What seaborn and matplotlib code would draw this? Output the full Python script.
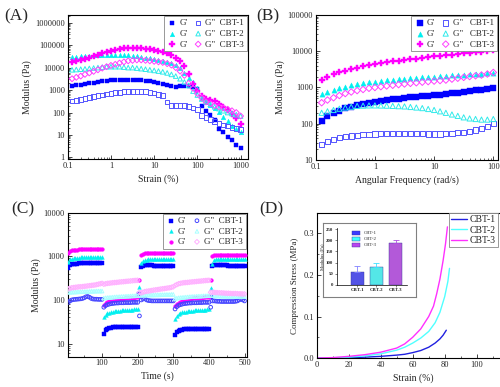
import numpy as np
import pandas as pd
import matplotlib
matplotlib.use('Agg')
import matplotlib.pyplot as plt
from matplotlib.ticker import FuncFormatter, NullFormatter, AutoMinorLocator, FixedLocator
from matplotlib.patches import Patch
import seaborn as sns

# ---------------- data ----------------
# (A) strain sweep
strain = [0.126, 0.158, 0.2, 0.251, 0.316, 0.398, 0.501, 0.631, 0.794, 1.0,
          1.26, 1.58, 2.0, 2.51, 3.16, 3.98, 5.01, 6.31, 7.94, 10.0,
          12.6, 15.8, 20.0, 25.1, 31.6, 39.8, 50.1, 63.1, 79.4, 100.0,
          126, 158, 200, 251, 316, 398, 501, 631, 794, 1000]
a_gp1 = [1500, 1600, 1700, 1850, 2000, 2150, 2300, 2450, 2600, 2700,
         2800, 2850, 2900, 2900, 2850, 2800, 2700, 2600, 2450, 2300,
         2150, 1950, 1700, 1450, 1400, 1450, 1550, 1500, 1400, 1100,
         200, 120, 80, 45, 19, 13, 8.5, 6, 3.5, 2.5]
a_gpp1 = [320, 350, 390, 430, 470, 510, 560, 610, 660, 710,
          760, 800, 840, 870, 880, 880, 870, 850, 800, 750,
          650, 560, 300, 210, 210, 210, 200, 180, 160, 140,
          75, 60, 50, 40, 33, 28, 25, 22, 20, 18]
a_gp2 = [30000, 31000, 32000, 33000, 34000, 35000, 36000, 37000, 38000, 38000,
         38000, 37000, 36000, 35000, 34000, 32000, 30000, 28000, 26000, 24000,
         22000, 20000, 18000, 16000, 13000, 10000, 6000, 3500, 2200, 1200,
         450, 300, 220, 160, 110, 65, 40, 25, 18, 13]
a_gpp2 = [8000, 8200, 8500, 8800, 9200, 9600, 10000, 10500, 11000, 11000,
          11000, 11000, 10500, 10000, 10000, 9500, 9000, 8500, 8000, 7500,
          7000, 6500, 5800, 5000, 4200, 3200, 2300, 1600, 900, 600,
          400, 300, 230, 180, 150, 120, 100, 90, 80, 70]
a_gp3 = [17000, 19000, 22000, 25000, 28000, 32000, 37000, 43000, 50000, 57000,
         63000, 68000, 72000, 74000, 75000, 74000, 72000, 70000, 66000, 61000,
         56000, 50000, 43000, 36000, 28000, 20000, 12000, 5000, 1800, 900,
         550, 420, 380, 340, 250, 180, 130, 85, 60, 30]
a_gpp3 = [3200, 3700, 4200, 5000, 5800, 6800, 8000, 9500, 11000, 12500,
          14000, 16000, 18000, 20000, 21000, 22000, 22000, 21000, 20000, 19000,
          18000, 17000, 15000, 13000, 10000, 7000, 4500, 2000, 1200, 700,
          450, 300, 250, 200, 180, 160, 140, 120, 100, 70]

# (B) frequency sweep
freq = [0.126, 0.158, 0.2, 0.251, 0.316, 0.398, 0.501, 0.631, 0.794, 1.0,
        1.26, 1.58, 2.0, 2.51, 3.16, 3.98, 5.01, 6.31, 7.94, 10.0,
        12.6, 15.8, 20.0, 25.1, 31.6, 39.8, 50.1, 63.1, 79.4, 100.0]
b_gp1 = [120, 160, 200, 230, 265, 295, 325, 355, 380, 410,
         430, 450, 470, 490, 510, 530, 550, 570, 590, 610,
         630, 660, 690, 720, 750, 790, 830, 870, 920, 970]
b_gpp1 = [27, 32, 37, 41, 44, 46, 48, 50, 51, 52,
          53, 54, 54, 54, 54, 53, 53, 53, 52, 52,
          52, 53, 54, 56, 58, 62, 67, 73, 82, 100]
b_gp2 = [650, 750, 850, 950, 1050, 1150, 1250, 1300, 1380, 1450,
         1520, 1600, 1650, 1700, 1750, 1800, 1850, 1900, 1950, 2000,
         2050, 2100, 2150, 2200, 2250, 2300, 2350, 2400, 2450, 2500]
b_gpp2 = [200, 220, 240, 260, 280, 295, 310, 315, 320, 320,
          318, 315, 310, 305, 300, 290, 280, 270, 255, 240,
          220, 200, 180, 165, 150, 140, 135, 130, 130, 135]
b_gp3 = [1600, 1950, 2300, 2600, 2900, 3200, 3500, 3800, 4100, 4400,
         4700, 5000, 5300, 5500, 5800, 6000, 6300, 6600, 6900, 7200,
         7500, 7800, 8100, 8400, 8700, 9000, 9300, 9600, 10000, 10500]
b_gpp3 = [380, 450, 520, 600, 680, 750, 820, 880, 950, 1000,
          1050, 1100, 1150, 1200, 1250, 1300, 1350, 1400, 1450, 1500,
          1550, 1600, 1700, 1800, 1900, 2000, 2100, 2200, 2350, 2600]

# (C) alternate strain time sweep
time_s = [5, 10, 15, 20, 25, 30, 35, 40, 45, 50, 55, 60, 65, 70, 75, 80, 85, 90, 95, 100,
          105, 110, 115, 120, 125, 130, 135, 140, 145, 150, 155, 160, 165, 170, 175, 180, 185, 190, 195, 200,
          205, 210, 215, 220, 225, 230, 235, 240, 245, 250, 255, 260, 265, 270, 275, 280, 285, 290, 295, 300,
          305, 310, 315, 320, 325, 330, 335, 340, 345, 350, 355, 360, 365, 370, 375, 380, 385, 390, 395, 400,
          405, 410, 415, 420, 425, 430, 435, 440, 445, 450, 455, 460, 465, 470, 475, 480, 485, 490, 495, 500]
c_gp1 = [550, 620, 650, 665, 675, 680, 685, 690, 690, 695, 695, 700, 700, 700, 700, 700, 700, 700, 700, 700,
         17, 20, 21.5, 22.5, 23, 23.5, 23.5, 24, 24, 24, 24, 24, 24, 24, 24, 24, 24, 23.5, 23.5, 23.5,
         135, 580, 610, 620, 620, 620, 620, 620, 615, 615, 615, 610, 610, 610, 610, 610, 610, 610, 605, 605,
         16, 18, 19.5, 20.5, 21, 21.5, 21.5, 22, 22, 22, 22, 22, 22, 22, 22, 22, 22, 22, 21.5, 21.5,
         115, 600, 630, 630, 630, 625, 625, 620, 620, 620, 615, 615, 615, 610, 610, 610, 610, 610, 605, 605]
c_gp2 = [750, 850, 890, 910, 920, 930, 935, 940, 940, 945, 945, 945, 950, 950, 950, 950, 950, 950, 950, 950,
         40, 46, 49, 51, 53, 54, 55, 56, 57, 57, 58, 58, 59, 59, 60, 60, 60, 61, 61, 61,
         195, 700, 800, 830, 840, 850, 850, 850, 850, 850, 850, 850, 850, 850, 850, 850, 850, 850, 850, 850,
         36, 43, 47, 50, 52, 53, 54, 55, 56, 57, 57, 58, 58, 59, 59, 60, 60, 60, 61, 61,
         190, 680, 820, 850, 860, 870, 870, 870, 870, 870, 870, 870, 870, 870, 870, 870, 870, 870, 870, 870]
c_gp3 = [1200, 1320, 1370, 1400, 1420, 1430, 1440, 1450, 1450, 1460, 1460, 1460, 1470, 1470, 1470, 1470, 1470, 1470, 1470, 1470,
         78, 85, 89, 93, 96, 98, 100, 102, 103, 105, 106, 107, 108, 109, 110, 111, 112, 113, 114, 115,
         290, 1050, 1150, 1180, 1200, 1210, 1220, 1220, 1220, 1220, 1220, 1220, 1220, 1220, 1220, 1220, 1220, 1220, 1220, 1220,
         72, 80, 86, 90, 94, 97, 100, 102, 104, 106, 108, 109, 110, 111, 112, 113, 114, 115, 116, 117,
         285, 1000, 1080, 1100, 1100, 1100, 1100, 1100, 1100, 1100, 1100, 1100, 1100, 1100, 1100, 1100, 1100, 1100, 1100, 1100]
c_gpp1 = [88, 95, 100, 102, 103, 104, 105, 106, 108, 112, 118, 120, 115, 108, 105, 104, 104, 103, 103, 103,
          68, 74, 78, 80, 82, 83, 84, 85, 85, 86, 86, 86, 87, 87, 87, 87, 88, 88, 88, 88,
          43, 100, 105, 108, 100, 97, 96, 95, 95, 95, 95, 95, 95, 95, 95, 95, 95, 95, 95, 95,
          62, 70, 75, 78, 80, 82, 83, 84, 85, 85, 86, 86, 86, 87, 87, 87, 88, 88, 88, 88,
          68, 95, 95, 94, 93, 93, 92, 92, 92, 92, 92, 92, 92, 92, 93, 95, 100, 105, 100, 95]
c_gpp2 = [150, 150, 151, 152, 152, 153, 154, 154, 155, 155, 156, 156, 157, 158, 158, 159, 160, 160, 160, 160,
          110, 112, 113, 114, 115, 116, 117, 118, 118, 119, 120, 120, 121, 122, 122, 123, 124, 124, 125, 125,
          130, 128, 128, 129, 129, 130, 130, 130, 130, 131, 131, 131, 132, 132, 132, 133, 133, 133, 134, 134,
          108, 110, 112, 113, 114, 115, 116, 117, 118, 119, 120, 120, 121, 122, 122, 123, 124, 124, 125, 125,
          125, 125, 124, 124, 123, 123, 122, 122, 122, 121, 121, 121, 120, 120, 120, 120, 120, 120, 120, 120]
c_gpp3 = [180, 185, 190, 192, 195, 197, 200, 200, 202, 205, 207, 210, 212, 215, 218, 220, 225, 230, 235, 240,
          230, 235, 240, 242, 245, 248, 250, 252, 255, 258, 260, 262, 265, 268, 270, 272, 275, 278, 280, 282,
          150, 145, 150, 155, 158, 160, 162, 165, 168, 170, 172, 175, 178, 180, 182, 185, 188, 190, 195, 200,
          215, 225, 235, 240, 245, 248, 250, 252, 255, 258, 260, 262, 265, 268, 270, 272, 275, 278, 280, 282,
          150, 150, 148, 147, 146, 145, 145, 144, 143, 142, 142, 141, 140, 140, 140, 139, 138, 138, 137, 137]

# (D) compression curves
d_strain1 = [0, 10, 20, 30, 40, 50, 55, 60, 65, 70, 74, 77, 79, 81]
d_stress1 = [0, 0.0003, 0.001, 0.002, 0.004, 0.007, 0.009, 0.013, 0.018, 0.026, 0.036, 0.046, 0.055, 0.067]
d_strain2 = [0, 10, 20, 30, 40, 50, 55, 60, 65, 70, 74, 77, 80, 82, 83]
d_stress2 = [0, 0.0008, 0.002, 0.005, 0.01, 0.019, 0.026, 0.036, 0.048, 0.064, 0.085, 0.11, 0.148, 0.185, 0.216]
d_strain3 = [0, 10, 20, 30, 40, 50, 55, 60, 65, 70, 73, 75, 77, 79, 80.5, 81.7]
d_stress3 = [0, 0.001, 0.004, 0.008, 0.014, 0.024, 0.034, 0.05, 0.07, 0.1, 0.125, 0.155, 0.19, 0.235, 0.275, 0.316]

# inset bars
samples = ['CBT-1', 'CBT-2', 'CBT-3']
bar_modulus = [60, 80, 190]
bar_err = [25, 20, 10]

# ---------------- style ----------------
sns.set_style('ticks')
plt.rcParams['font.family'] = ['Liberation Serif', 'DejaVu Serif']
plt.rcParams['xtick.direction'] = 'in'
plt.rcParams['ytick.direction'] = 'in'
plt.rcParams['axes.linewidth'] = 0.8
plt.rcParams['axes.edgecolor'] = 'black'

fs_tick = 6
fs_lab = 7
fs_leg = 6.5

BLUE, CYAN, MAG = '#0000ff', '#00f0f0', '#ff00ff'
BLUE_O, CYAN_O, MAG_O = '#5555ff', '#30eaea', '#ff40ff'

fig = plt.figure(figsize=(5, 3.87), dpi=100)
axA = fig.add_axes([0.1354, 0.5891, 0.361, 0.3721])
axB = fig.add_axes([0.6314, 0.5866, 0.3646, 0.3747])
axC = fig.add_axes([0.135, 0.0783, 0.359, 0.3721])
axD = fig.add_axes([0.6334, 0.0749, 0.3866, 0.3754])


def plain_log(v, pos):
    return '%d' % v if v >= 1 else '%g' % v


def style_ax(ax):
    ax.tick_params(which='major', labelsize=fs_tick, length=3, width=0.6, pad=2)
    ax.tick_params(which='minor', length=1.5, width=0.5)
    for s in ax.spines.values():
        s.set_linewidth(0.8)


def series(ax, x, y, marker, color, filled, s, label):
    if filled:
        sns.scatterplot(x=x, y=y, ax=ax, marker=marker, color=color, edgecolor=color,
                        linewidth=0.3, s=s, label=label, zorder=3)
    else:
        sns.scatterplot(x=x, y=y, ax=ax, marker=marker, facecolors='none', edgecolor=color,
                        linewidth=0.7, s=s, label=label, zorder=3)


def modulus_legend(ax):
    h, l = ax.get_legend_handles_labels()
    leg = ax.legend(h, l, ncol=2, loc='upper right', fontsize=fs_leg, frameon=True,
                    fancybox=False, framealpha=1, edgecolor='#888888', borderaxespad=0.15,
                    borderpad=0.3, labelspacing=0.25, handletextpad=0.2, columnspacing=0.6,
                    handlelength=1.2, markerscale=1.0)
    leg.get_frame().set_linewidth(0.6)


# ---------------- (A) ----------------
sA = 11
series(axA, strain, a_gp1, 's', BLUE, True, sA, "G'")
series(axA, strain, a_gp2, '^', CYAN, True, sA, "G'")
series(axA, strain, a_gp3, 'P', MAG, True, sA + 3, "G'")
series(axA, strain, a_gpp1, 's', BLUE_O, False, sA, 'G"  CBT-1')
series(axA, strain, a_gpp2, '^', CYAN_O, False, sA, 'G"  CBT-2')
series(axA, strain, a_gpp3, 'D', MAG_O, False, sA - 2, 'G"  CBT-3')
axA.set_xscale('log')
axA.set_yscale('log')
axA.set_xlim(0.1, 1500)
axA.set_ylim(0.85, 2.2e6)
axA.xaxis.set_major_locator(FixedLocator([0.1, 1, 10, 100, 1000]))
axA.yaxis.set_major_locator(FixedLocator([1, 10, 100, 1000, 1e4, 1e5, 1e6]))
axA.xaxis.set_major_formatter(FuncFormatter(plain_log))
axA.yaxis.set_major_formatter(FuncFormatter(plain_log))
axA.xaxis.set_minor_formatter(NullFormatter())
axA.yaxis.set_minor_formatter(NullFormatter())
axA.set_xlabel('Strain (%)', fontsize=fs_lab, labelpad=3)
axA.set_ylabel('Modulus (Pa)', fontsize=fs_lab, labelpad=2)
style_ax(axA)
modulus_legend(axA)

# ---------------- (B) ----------------
sB = 14
series(axB, freq, b_gp1, 's', BLUE, True, sB, "G'")
series(axB, freq, b_gp2, '^', CYAN, True, sB, "G'")
series(axB, freq, b_gp3, 'P', MAG, True, sB + 4, "G'")
series(axB, freq, b_gpp1, 's', BLUE_O, False, sB, 'G"   CBT-1')
series(axB, freq, b_gpp2, '^', CYAN_O, False, sB, 'G"   CBT-2')
series(axB, freq, b_gpp3, 'D', MAG_O, False, sB - 3, 'G"   CBT-3')
axB.set_xscale('log')
axB.set_yscale('log')
axB.set_xlim(0.1, 120)
axB.set_ylim(10, 1e5)
axB.xaxis.set_major_locator(FixedLocator([0.1, 1, 10, 100]))
axB.yaxis.set_major_locator(FixedLocator([10, 100, 1000, 1e4, 1e5]))
axB.xaxis.set_major_formatter(FuncFormatter(plain_log))
axB.yaxis.set_major_formatter(FuncFormatter(plain_log))
axB.xaxis.set_minor_formatter(NullFormatter())
axB.yaxis.set_minor_formatter(NullFormatter())
axB.set_xlabel('Angular Frequency (rad/s)', fontsize=fs_lab, labelpad=3)
axB.set_ylabel('Modulus (Pa)', fontsize=fs_lab, labelpad=2)
style_ax(axB)
modulus_legend(axB)

# ---------------- (C) ----------------
sC = 7
series(axC, time_s, c_gp1, 's', BLUE, True, sC, "G'")
series(axC, time_s, c_gp2, '^', CYAN, True, sC, "G'")
series(axC, time_s, c_gp3, 'o', MAG, True, sC, "G'")
series(axC, time_s, c_gpp1, 'o', '#4444ff', False, sC, 'G"  CBT-1')
series(axC, time_s, c_gpp2, '^', '#aaffff', False, sC, 'G"  CBT-2')
series(axC, time_s, c_gpp3, 'D', '#ffb0ff', False, sC - 1, 'G"  CBT-3')
axC.set_yscale('log')
axC.set_xlim(3, 507)
axC.set_ylim(5, 10000)
axC.set_xticks([100, 200, 300, 400, 500])
axC.xaxis.set_minor_locator(AutoMinorLocator(2))
axC.yaxis.set_major_locator(FixedLocator([10, 100, 1000, 10000]))
axC.yaxis.set_major_formatter(FuncFormatter(plain_log))
axC.yaxis.set_minor_formatter(NullFormatter())
axC.set_xlabel('Time (s)', fontsize=fs_lab, labelpad=3)
axC.set_ylabel('Modulus (Pa)', fontsize=fs_lab, labelpad=2)
style_ax(axC)
modulus_legend(axC)

# ---------------- (D) ----------------
for xs, ys, c, lab in [(d_strain1, d_stress1, '#2020e0', 'CBT-1'),
                       (d_strain2, d_stress2, '#50ffff', 'CBT-2'),
                       (d_strain3, d_stress3, '#ff30ff', 'CBT-3')]:
    sns.lineplot(x=xs, y=ys, ax=axD, color=c, linewidth=1.0, sort=False,
                 estimator=None, label=lab)
axD.set_xlim(0, 120.8)
axD.set_ylim(0, 0.35)
axD.set_xticks([0, 20, 40, 60, 80, 100])
axD.set_yticks([0.0, 0.1, 0.2, 0.3])
axD.yaxis.set_major_formatter(FuncFormatter(lambda v, p: '%.1f' % v))
axD.xaxis.set_minor_locator(AutoMinorLocator(2))
axD.yaxis.set_minor_locator(AutoMinorLocator(2))
axD.set_xlabel('Strain (%)', fontsize=fs_lab, labelpad=3)
axD.set_ylabel('Compression Stress (MPa)', fontsize=fs_lab - 0.5, labelpad=3)
style_ax(axD)
legD = axD.legend(loc='upper left', bbox_to_anchor=(449 / 500, 1 - 212.7 / 387),
                  bbox_transform=fig.transFigure, fontsize=7, frameon=True, fancybox=False,
                  framealpha=1, edgecolor='#888888', borderaxespad=0, borderpad=0.25,
                  labelspacing=0.15, handlelength=1.6, handletextpad=0.3)
legD.get_frame().set_linewidth(0.6)

# inset frame + bar chart
frame = fig.add_axes([0.6454, 0.2318, 0.186, 0.1928])
frame.set_xticks([])
frame.set_yticks([])
for s in frame.spines.values():
    s.set_edgecolor('#808080')
    s.set_linewidth(0.8)

axI = fig.add_axes([0.6734, 0.2636, 0.1406, 0.1473])
bar_colors = ['#3a3aff', '#3cffff', '#bb44ee']
bar_df = pd.DataFrame({'sample': samples, 'modulus': bar_modulus})
sns.barplot(data=bar_df, x='sample', y='modulus', hue='sample', palette=bar_colors,
            ax=axI, width=0.68, errorbar=None, legend=False, edgecolor='#333399',
            linewidth=0.3)
for i, c in enumerate(['#8080ff', '#40e0ff', '#b050e0']):
    axI.errorbar([i], [bar_modulus[i]], yerr=[[0], [bar_err[i]]], fmt='none',
                 ecolor=c, elinewidth=0.6, capsize=2, capthick=0.6)
axI.set_xlim(-1.08, 2.6)
axI.set_ylim(0, 255)
axI.set_yticks([0, 50, 100, 150, 200, 250])
axI.set_xlabel('')
axI.set_ylabel('Modulus (Pa)', fontsize=3.5, labelpad=1)
axI.tick_params(labelsize=3.5, length=1.5, width=0.4, pad=1, direction='out')
for t in axI.get_xticklabels() + axI.get_yticklabels():
    t.set_fontweight('bold')
sns.despine(ax=axI)
for s in ['left', 'bottom']:
    axI.spines[s].set_linewidth(0.5)
axI.legend(handles=[Patch(facecolor=c, edgecolor='#333399', linewidth=0.3) for c in bar_colors],
           labels=samples, loc='upper left', fontsize=3.5, frameon=False,
           handlelength=1.6, handleheight=0.8, labelspacing=0.3, borderaxespad=0.2,
           bbox_to_anchor=(0.18, 1.0))

# panel labels
fig.text(0.008, 0.948, '(A)', fontsize=12.5)
fig.text(0.512, 0.948, '(B)', fontsize=12.5)
fig.text(0.022, 0.448, '(C)', fontsize=12.5)
fig.text(0.518, 0.448, '(D)', fontsize=12.5)

fig.savefig('out.png', dpi=100)
